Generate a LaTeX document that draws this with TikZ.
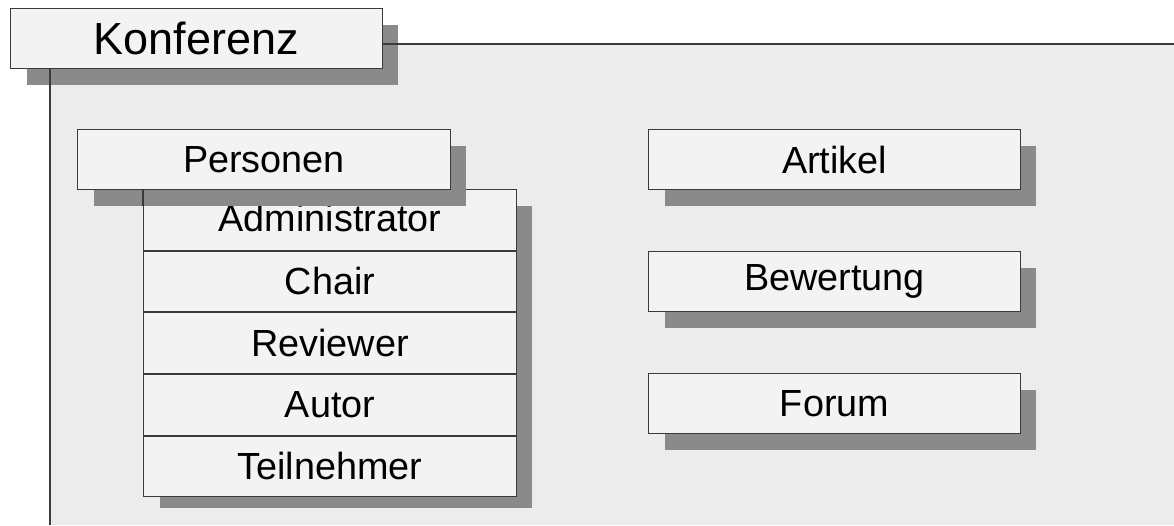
\documentclass[tikz,border=0pt]{standalone}
\usepackage{fontspec}
\setmainfont{Liberation Sans}
\usetikzlibrary{positioning,shadows}
\definecolor{bodygrey}{HTML}{ECECEC}
\definecolor{boxgrey}{HTML}{F3F3F3}
\definecolor{shadowgrey}{HTML}{8A8A8A}
\definecolor{linegrey}{HTML}{3A3A3A}
\tikzset{
  plainbox/.style={draw=linegrey, line width=0.6pt, fill=boxgrey,
    anchor=north west, inner sep=0pt,
    minimum width=7.46cm, minimum height=1.2cm,
    font=\fontsize{21.5}{24}\selectfont},
  pkgbox/.style={plainbox,
    drop shadow={shadow xshift=0.32cm, shadow yshift=-0.32cm,
      fill=shadowgrey, opacity=1}},
  rolebox/.style={plainbox, minimum height=1.212cm},
  pkgline/.style={draw=linegrey, line width=0.8pt}
}
\begin{document}
\begin{tikzpicture}[x=0.02cm, y=-0.02cm]
  \useasboundingbox (0,0) rectangle (1174,525);
  % package body
  \fill[bodygrey] (50,44) rectangle (1174,525);
  \node[pkgbox, minimum width=7.44cm, font=\fontsize{25.6}{30}\selectfont]
    (konferenz) at (10,8) {Konferenz};
  \coordinate (topedge) at (1174,44);
  \coordinate (leftedge) at (50,525);
  \draw[pkgline] (konferenz.north east |- topedge) -- (topedge);
  \draw[pkgline] (konferenz.south west -| leftedge) -- (leftedge);
  % roles
  \node[pkgbox, minimum height=6.06cm] (rolelist) at (143,189) {};
  \node[rolebox] (admin) at (rolelist.north west) {\raisebox{2pt}{Administrator}};
  \node[rolebox, below=0pt of admin] (chair) {Chair};
  \node[rolebox, below=0pt of chair] (reviewer) {Reviewer};
  \node[rolebox, below=0pt of reviewer] (autor) {Autor};
  \node[rolebox, below=0pt of autor] (teilnehmer) {Teilnehmer};
  \node[pkgbox] (personen) at (77,129) {Personen};
  \draw[line width=0.6pt, linegrey] (admin.north west) -- ++(0,17);
  % right column
  \node[pkgbox, minimum width=7.44cm] (artikel) at (648,129) {Artikel};
  \node[pkgbox, minimum width=7.44cm, below=1.22cm of artikel] (bewertung) {Bewertung};
  \node[pkgbox, minimum width=7.44cm, below=1.22cm of bewertung] (forum) {Forum};
\end{tikzpicture}
\end{document}
